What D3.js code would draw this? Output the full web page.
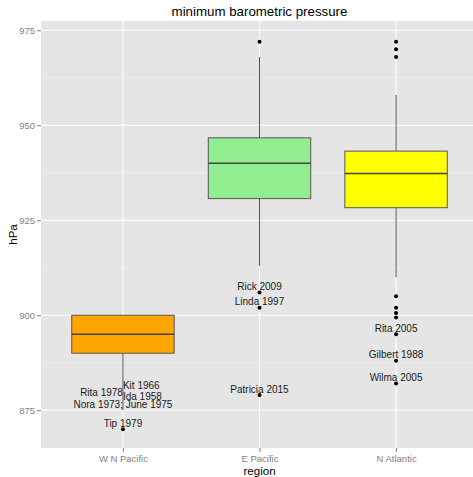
<!DOCTYPE html>
<html>
<head>
<meta charset="utf-8">
<script src="https://cdn.jsdelivr.net/npm/d3@7"></script>
<style>
  body { margin: 0; background: #fff; }
  svg { display: block; font-family: "Liberation Sans", Arial, sans-serif; }
</style>
</head>
<body>
<svg id="chart" width="473" height="477"></svg>
<script>
// box summaries, one entry per region
var regions = ['W N Pacific', 'E Pacific', 'N Atlantic'];
var boxColors = ['#FFA500', '#90EE90', '#FFFF00'];
var q1 = [890, 930.7, 928.3];
var medians = [895, 940, 937.3];
var q3 = [900, 946.7, 943.2];
var whiskerLow = [875, 913, 910];
var whiskerHigh = [900, 968, 958];
var outliers = [
  [870],
  [972, 906, 902, 879],
  [972, 970, 968, 905, 902, 900.6, 899.4, 895, 888, 882]
];

// named storms
var stormNames = ['Kit 1966', 'Rita 1978', 'Ida 1958', 'Nora 1973; June 1975', 'Tip 1979',
                  'Rick 2009', 'Linda 1997', 'Patricia 2015',
                  'Rita 2005', 'Gilbert 1988', 'Wilma 2005'];
var stormRegion = [0, 0, 0, 0, 0, 1, 1, 1, 2, 2, 2];
var stormPressure = [880, 878, 877, 875, 870, 906, 902, 879, 895, 888, 882];
var stormHjust = [0, 1, 0, 0.5, 0.5, 0.5, 0.5, 0.5, 0.5, 0.5, 0.5];

var yTicks = [875, 900, 925, 950, 975];
var yMinor = [887.5, 912.5, 937.5, 962.5];

var svg = d3.select('#chart'),
    panelL = 41, panelR = 478, panelT = 21, panelB = 448;

var x = d3.scalePoint()
  .domain(regions)
  .range([panelL, panelR])
  .padding(0.6);

var y = d3.scaleLinear()
  .domain([865.05, 977.45])
  .range([panelB, panelT]);

var boxW = x.step() * 0.75;

// panel
svg.append('rect')
  .attr('x', panelL).attr('y', panelT)
  .attr('width', panelR - panelL).attr('height', panelB - panelT)
  .attr('fill', '#E5E5E5');

svg.selectAll('line.minor')
  .data(yMinor).enter()
  .append('line')
    .attr('class', 'minor')
    .attr('x1', panelL).attr('x2', panelR)
    .attr('y1', function(d) { return y(d); })
    .attr('y2', function(d) { return y(d); })
    .attr('stroke', '#F2F2F2').attr('stroke-width', 0.6);

svg.selectAll('line.major')
  .data(yTicks).enter()
  .append('line')
    .attr('class', 'major')
    .attr('x1', panelL).attr('x2', panelR)
    .attr('y1', function(d) { return y(d); })
    .attr('y2', function(d) { return y(d); })
    .attr('stroke', '#fff').attr('stroke-width', 1);

svg.selectAll('line.vmajor')
  .data(regions).enter()
  .append('line')
    .attr('class', 'vmajor')
    .attr('x1', function(d) { return x(d); })
    .attr('x2', function(d) { return x(d); })
    .attr('y1', panelT).attr('y2', panelB)
    .attr('stroke', '#fff').attr('stroke-width', 1);

// boxes
var boxes = svg.selectAll('g.box')
  .data(regions).enter()
  .append('g')
    .attr('class', 'box');

boxes.append('line')
  .attr('x1', function(d) { return x(d); })
  .attr('x2', function(d) { return x(d); })
  .attr('y1', function(d, i) { return y(whiskerHigh[i]); })
  .attr('y2', function(d, i) { return y(q3[i]); })
  .attr('stroke', '#555').attr('stroke-width', 1);

boxes.append('line')
  .attr('x1', function(d) { return x(d); })
  .attr('x2', function(d) { return x(d); })
  .attr('y1', function(d, i) { return y(q1[i]); })
  .attr('y2', function(d, i) { return y(whiskerLow[i]); })
  .attr('stroke', '#555').attr('stroke-width', 1);

boxes.append('rect')
  .attr('x', function(d) { return x(d) - boxW / 2; })
  .attr('y', function(d, i) { return y(q3[i]); })
  .attr('width', boxW)
  .attr('height', function(d, i) { return y(q1[i]) - y(q3[i]); })
  .attr('fill', function(d, i) { return boxColors[i]; })
  .attr('stroke', '#555').attr('stroke-width', 1);

boxes.append('line')
  .attr('x1', function(d) { return x(d) - boxW / 2; })
  .attr('x2', function(d) { return x(d) + boxW / 2; })
  .attr('y1', function(d, i) { return y(medians[i]); })
  .attr('y2', function(d, i) { return y(medians[i]); })
  .attr('stroke', '#444').attr('stroke-width', 1.6);

boxes.selectAll('circle')
  .data(function(d, i) { return outliers[i].map(function(v) { return { r: d, v: v }; }); })
  .enter()
  .append('circle')
    .attr('cx', function(d) { return x(d.r); })
    .attr('cy', function(d) { return y(d.v); })
    .attr('r', 2)
    .attr('fill', '#000');

// storm labels
svg.selectAll('text.storm')
  .data(stormNames).enter()
  .append('text')
    .attr('class', 'storm')
    .attr('x', function(d, i) { return x(regions[stormRegion[i]]); })
    .attr('y', function(d, i) { return y(stormPressure[i]) - 2.5; })
    .attr('text-anchor', function(d, i) {
      return stormHjust[i] === 0 ? 'start' : (stormHjust[i] === 1 ? 'end' : 'middle');
    })
    .attr('font-size', '10px')
    .attr('fill', '#1a1a1a')
    .text(function(d) { return d; });

// axes
var yAxis = svg.append('g')
  .attr('transform', 'translate(' + panelL + ',0)')
  .call(d3.axisLeft(y).tickValues(yTicks).tickSize(4).tickPadding(2).tickFormat(d3.format('d')));

var xAxis = svg.append('g')
  .attr('transform', 'translate(0,' + panelB + ')')
  .call(d3.axisBottom(x).tickSize(4).tickPadding(3));

[yAxis, xAxis].forEach(function(ax) {
  ax.select('.domain').remove();
  ax.selectAll('line').attr('stroke', '#7F7F7F');
  ax.selectAll('text')
    .attr('fill', '#7F7F7F')
    .style('font-size', '9.5px')
    .style('font-family', '"Liberation Sans", Arial, sans-serif');
});

// titles
svg.append('text')
  .attr('x', (panelL + panelR) / 2).attr('y', 16)
  .attr('text-anchor', 'middle')
  .attr('font-size', '13.3px')
  .attr('fill', '#000')
  .text('minimum barometric pressure');

svg.append('text')
  .attr('x', (panelL + panelR) / 2).attr('y', 475)
  .attr('text-anchor', 'middle')
  .attr('font-size', '11.6px')
  .attr('fill', '#000')
  .text('region');

svg.append('text')
  .attr('transform', 'translate(17,' + ((panelT + panelB) / 2) + ') rotate(-90)')
  .attr('text-anchor', 'middle')
  .attr('font-size', '11.6px')
  .attr('fill', '#000')
  .text('hPa');
</script>
</body>
</html>
